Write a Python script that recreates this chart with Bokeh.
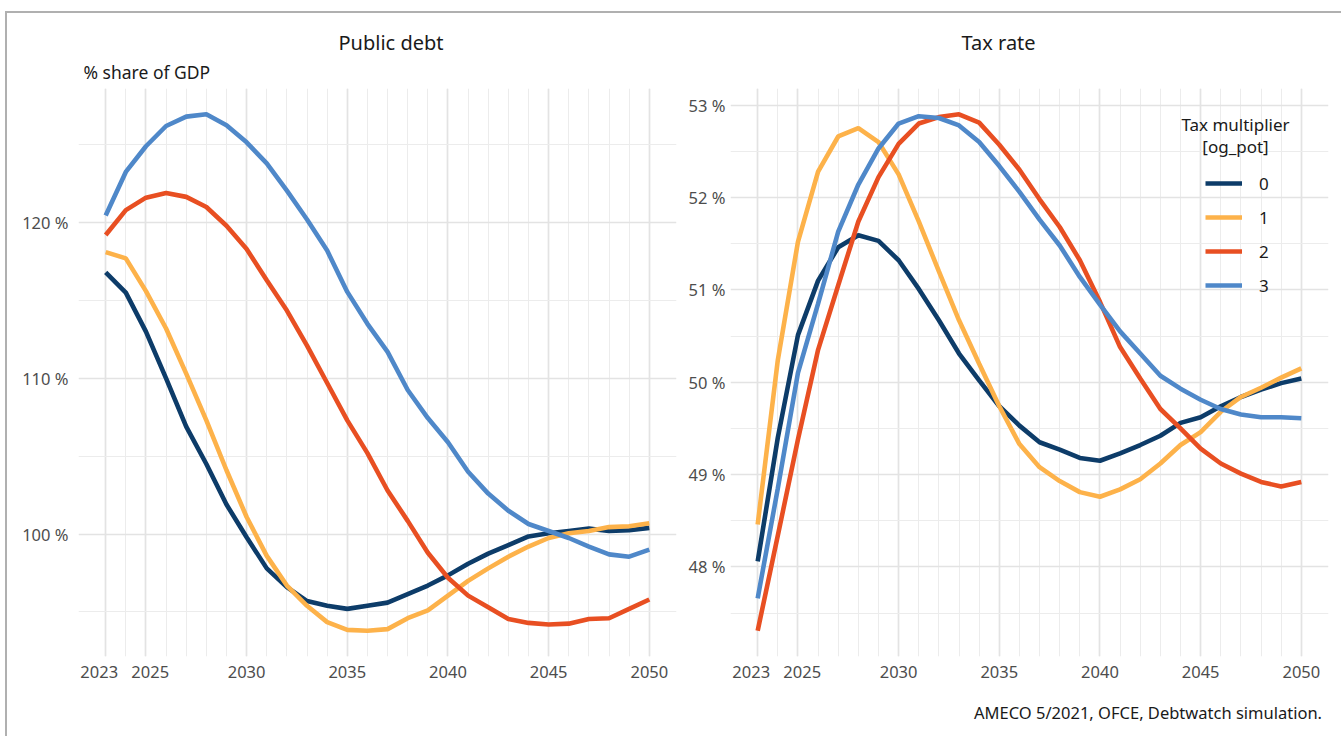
from bokeh.plotting import figure
from bokeh.models import FixedTicker, CustomJSTickFormatter, Title, Legend, LegendItem, Range1d, Label, Div
from bokeh.layouts import row, column
from bokeh.embed import file_html
from bokeh.resources import INLINE

# ---------------- data ----------------
years = list(range(2023, 2051))
scenarios = ["0", "1", "2", "3"]
colors = ["#0d3c69", "#fdb24a", "#e84f22", "#4f88c9"]

debt_0 = [116.8, 115.5, 113.0, 110.0, 106.9, 104.5, 101.9, 99.8, 97.8, 96.6, 95.7, 95.4, 95.2, 95.4,
          95.6, 96.15, 96.7, 97.35, 98.1, 98.75, 99.3, 99.85, 100.05, 100.2, 100.35, 100.2, 100.25, 100.4]
debt_1 = [118.1, 117.7, 115.6, 113.2, 110.3, 107.3, 104.1, 101.1, 98.6, 96.7, 95.4, 94.35, 93.85, 93.8,
          93.9, 94.6, 95.1, 96.05, 97.0, 97.8, 98.55, 99.2, 99.75, 100.05, 100.2, 100.45, 100.5, 100.7]
debt_2 = [119.2, 120.8, 121.6, 121.9, 121.65, 121.0, 119.8, 118.3, 116.3, 114.35, 112.1, 109.7, 107.3, 105.2,
          102.8, 100.85, 98.8, 97.2, 96.05, 95.3, 94.55, 94.3, 94.2, 94.25, 94.55, 94.6, 95.2, 95.8]
debt_3 = [120.45, 123.25, 124.9, 126.2, 126.8, 126.95, 126.25, 125.15, 123.8, 122.05, 120.2, 118.2, 115.55, 113.5,
          111.7, 109.25, 107.45, 105.9, 104.0, 102.6, 101.5, 100.65, 100.2, 99.75, 99.2, 98.7, 98.55, 99.0]

tax_0 = [48.06, 49.4, 50.51, 51.1, 51.46, 51.59, 51.53, 51.32, 51.01, 50.67, 50.31, 50.02, 49.74, 49.53,
         49.35, 49.27, 49.18, 49.15, 49.23, 49.32, 49.42, 49.56, 49.62, 49.74, 49.84, 49.92, 49.99, 50.04]
tax_1 = [48.46, 50.24, 51.52, 52.28, 52.66, 52.75, 52.6, 52.25, 51.74, 51.2, 50.67, 50.2, 49.74, 49.33,
         49.08, 48.93, 48.81, 48.76, 48.84, 48.95, 49.12, 49.32, 49.46, 49.68, 49.84, 49.94, 50.05, 50.15]
tax_2 = [47.31, 48.34, 49.38, 50.35, 51.05, 51.74, 52.22, 52.58, 52.8, 52.87, 52.9, 52.81, 52.57, 52.3,
         51.98, 51.68, 51.32, 50.87, 50.38, 50.04, 49.71, 49.5, 49.28, 49.12, 49.01, 48.92, 48.87, 48.92]
tax_3 = [47.66, 48.85, 50.1, 50.85, 51.63, 52.14, 52.53, 52.8, 52.88, 52.86, 52.78, 52.6, 52.34, 52.06,
         51.76, 51.48, 51.14, 50.84, 50.55, 50.31, 50.07, 49.93, 49.81, 49.71, 49.65, 49.62, 49.62, 49.61]

x_major = [2023, 2025, 2030, 2035, 2040, 2045, 2050]
debt_major = [100, 110, 120]
debt_minor = [95, 105, 115, 125]
tax_major = [48, 49, 50, 51, 52, 53]
tax_minor = [47.5, 48.5, 49.5, 50.5, 51.5, 52.5]

title_left = "Public debt"
subtitle_left = "% share of GDP"
title_right = "Tax rate"
legend_title = "Tax multiplier\n[og_pot]"
caption = "AMECO 5/2021, OFCE, Debtwatch simulation."

FONT = "Noto Sans"
INK = "#1a1a1a"
NB = "\u00a0"


def expanded(vals, frac=0.05):
    lo, hi = min(vals), max(vals)
    d = (hi - lo) * frac
    return Range1d(lo - d, hi + d)


def style(p, ymajor, yminor, ystandoff):
    p.outline_line_color = None
    p.background_fill_color = "white"
    p.border_fill_color = "white"
    p.xaxis.ticker = FixedTicker(ticks=x_major, minor_ticks=years)
    # the first two year labels are nudged apart as in the original
    p.xaxis.major_label_overrides = {2023: "2023" + NB * 3, 2025: NB * 2 + "2025"}
    p.yaxis.ticker = FixedTicker(ticks=ymajor, minor_ticks=yminor)
    p.yaxis.formatter = CustomJSTickFormatter(code="return tick + ' %';")
    for ax in (p.xaxis[0], p.yaxis[0]):
        ax.axis_line_color = None
        ax.major_tick_line_color = None
        ax.minor_tick_line_color = None
        ax.major_tick_out = 0
        ax.minor_tick_out = 0
        ax.major_label_text_font = FONT
        ax.major_label_text_font_size = "16.5px"
        ax.major_label_text_color = "#4d4d4d"
    p.xaxis.major_label_standoff = 3
    p.yaxis.major_label_standoff = ystandoff
    for g in (p.xgrid[0], p.ygrid[0]):
        g.grid_line_color = "#e3e3e3"
        g.grid_line_width = 1.7
        g.minor_grid_line_color = "#ececec"
        g.minor_grid_line_width = 1.0


all_debt = debt_0 + debt_1 + debt_2 + debt_3
all_tax = tax_0 + tax_1 + tax_2 + tax_3

common = dict(height=690, output_backend="svg", toolbar_location=None,
              min_border_top=75, min_border_bottom=47)

p1 = figure(width=675, x_range=expanded(years), y_range=expanded(all_debt),
            min_border_left=71, min_border_right=6, **common)
p2 = figure(width=651, x_range=expanded(years), y_range=expanded(all_tax),
            min_border_left=48, min_border_right=5, **common)

style(p1, debt_major, debt_minor, 10)
style(p2, tax_major, tax_minor, 5)

renderers = []
for ys, c in zip([debt_0, debt_1, debt_2, debt_3], colors):
    p1.line(years, ys, line_color=c, line_width=4.6)
for ys, c in zip([tax_0, tax_1, tax_2, tax_3], colors):
    renderers.append(p2.line(years, ys, line_color=c, line_width=4.6))

# titles (the built-in title sits farthest from the frame)
for p, main, off in ((p1, title_left, 260), (p2, title_right, 231)):
    p.title.text = main
    p.title.align = "left"
    p.title.offset = off
    p.title.text_font = FONT
    p.title.text_font_size = "20px"
    p.title.text_font_style = "normal"
    p.title.text_color = INK
    p.title.standoff = -6

p1.add_layout(Title(text=subtitle_left, align="left", offset=5, text_font=FONT, text_font_size="17.5px",
                    text_font_style="normal", text_color=INK), "above")
p2.add_layout(Title(text=" ", align="left", text_font=FONT, text_font_size="17.5px",
                    text_font_style="normal"), "above")

legend = Legend(items=[LegendItem(label=s, renderers=[r]) for s, r in zip(scenarios, renderers)],
                location=(475, 356))
legend.label_text_font = FONT
legend.label_text_font_size = "17px"
legend.label_text_color = INK
legend.border_line_color = None
legend.background_fill_alpha = 0
legend.glyph_width = 37
legend.glyph_height = 30
legend.label_height = 30
legend.label_standoff = 17
legend.spacing = 4
p2.add_layout(legend)

p2.add_layout(Label(x=505, y=544, x_units="screen", y_units="screen", text=legend_title,
                    text_align="center", text_baseline="top", text_font=FONT,
                    text_font_size="17px", text_color=INK, text_line_height=0.97))

cap = Div(text=caption, width=1326, height=25,
          styles={"font-family": "Noto Sans", "font-size": "16.5px", "color": INK,
                  "text-align": "right", "line-height": "10px", "padding-right": "16px",
                  "box-sizing": "border-box", "white-space": "nowrap"})

layout = column(row(p1, p2), cap,
                styles={"border-left": "2px solid #b0b0b0", "border-top": "2px solid #b0b0b0",
                        "margin-left": "5px", "margin-top": "11px"})

open("out.html", "w").write(file_html(layout, INLINE))
